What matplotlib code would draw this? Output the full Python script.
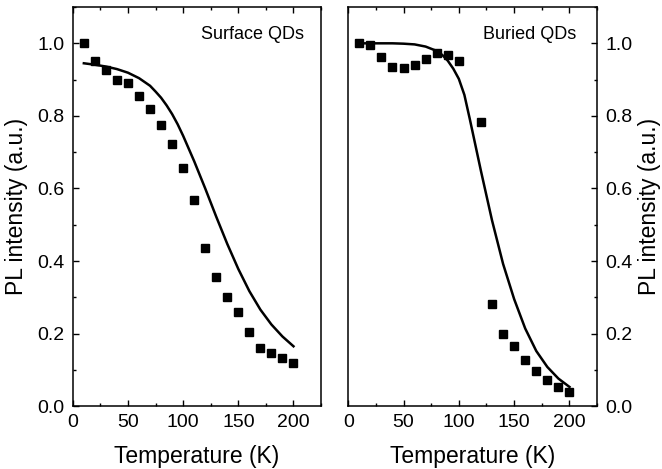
import numpy as np
import matplotlib
matplotlib.use('Agg')
import matplotlib.pyplot as plt
from matplotlib.ticker import MultipleLocator

plt.rcParams['font.family'] = ['Liberation Sans', 'DejaVu Sans']

# surface QDs
surf_T = [10, 20, 30, 40, 50, 60, 70, 80, 90, 100,
          110, 120, 130, 140, 150, 160, 170, 180, 190, 200]
surf_pl = [1.0, 0.951, 0.926, 0.899, 0.891, 0.855, 0.818, 0.776, 0.722, 0.656,
           0.567, 0.436, 0.355, 0.301, 0.259, 0.205, 0.159, 0.146, 0.134, 0.119]
surf_fit_T = [10, 20, 30, 40, 50, 60, 70, 75, 80, 85, 90, 95, 100,
              110, 120, 130, 140, 150, 160, 170, 180, 190, 200]
surf_fit = [0.945, 0.941, 0.936, 0.929, 0.919, 0.904, 0.883, 0.867, 0.850, 0.829, 0.805, 0.777, 0.745,
            0.675, 0.600, 0.522, 0.447, 0.378, 0.317, 0.266, 0.225, 0.192, 0.165]

# buried QDs
bur_T = [10, 20, 30, 40, 50, 60, 70, 80, 90, 100,
         120, 130, 140, 150, 160, 170, 180, 190, 200]
bur_pl = [1.0, 0.996, 0.963, 0.935, 0.933, 0.940, 0.958, 0.972, 0.968, 0.951,
          0.783, 0.281, 0.199, 0.166, 0.127, 0.097, 0.071, 0.052, 0.040]
bur_fit_T = [10, 20, 30, 40, 50, 60, 70, 80, 85, 90, 95, 100, 105, 110,
             120, 130, 140, 150, 160, 170, 180, 190, 200]
bur_fit = [1.0, 1.0, 1.0, 1.0, 0.999, 0.997, 0.991, 0.979, 0.968, 0.952, 0.930, 0.902, 0.858, 0.790,
           0.648, 0.512, 0.392, 0.295, 0.214, 0.152, 0.108, 0.076, 0.053]

fig = plt.figure(figsize=(6.62, 4.69), dpi=100)
ax1 = fig.add_axes([0.110, 0.134, 0.375, 0.851])
ax2 = fig.add_axes([0.526, 0.134, 0.376, 0.851])


def style(ax, side):
    ax.set_xlim(0, 225)
    ax.set_ylim(0, 1.1)
    ax.xaxis.set_major_locator(MultipleLocator(50))
    ax.xaxis.set_minor_locator(MultipleLocator(25))
    ax.yaxis.set_major_locator(MultipleLocator(0.2))
    ax.yaxis.set_minor_locator(MultipleLocator(0.1))
    ax.yaxis.set_major_formatter(plt.FormatStrFormatter('%.1f'))
    for s in ax.spines.values():
        s.set_linewidth(1.1)
    ax.tick_params(which='both', direction='in', top=True, width=1.0,
                   labelsize=14)
    ax.tick_params(which='major', length=4, pad=6)
    ax.tick_params(which='minor', length=2.2)
    ax.set_xlabel('Temperature (K)', fontsize=16.5, labelpad=10)
    if side == 'right':
        ax.yaxis.tick_right()
        ax.yaxis.set_label_position('right')
        ax.tick_params(axis='y', which='both', direction='in', left=False, right=True)
        ax.set_ylabel('PL intensity (a.u.)', fontsize=16.5, labelpad=4)
    else:
        ax.tick_params(axis='y', which='both', right=False)
        ax.set_ylabel('PL intensity (a.u.)', fontsize=16.5, labelpad=7)


ax1.plot(surf_T, surf_pl, 's', color='black', ms=6)
ax1.plot(surf_fit_T, surf_fit, '-', color='black', lw=1.8)
style(ax1, 'left')
ax1.text(0.93, 0.93, 'Surface QDs', transform=ax1.transAxes,
         ha='right', va='center', fontsize=13)

ax2.plot(bur_T, bur_pl, 's', color='black', ms=6)
ax2.plot(bur_fit_T, bur_fit, '-', color='black', lw=1.8)
style(ax2, 'right')
ax2.text(0.915, 0.93, 'Buried QDs', transform=ax2.transAxes,
         ha='right', va='center', fontsize=13)

fig.savefig('out.png', dpi=100)
